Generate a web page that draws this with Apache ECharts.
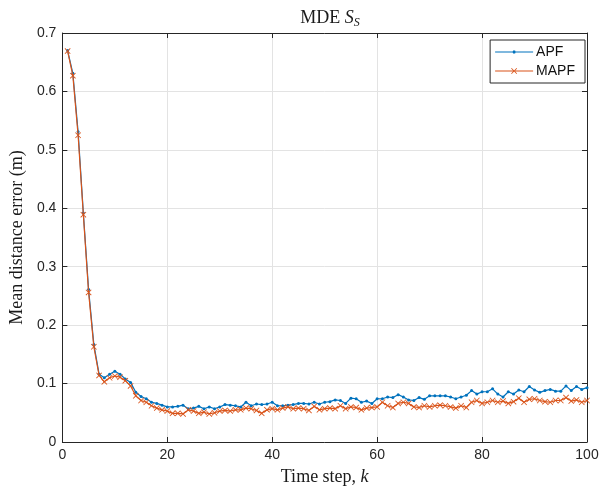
<!DOCTYPE html>
<html>
<head>
<meta charset="utf-8">
<script src="https://cdn.jsdelivr.net/npm/echarts@6/dist/echarts.min.js"></script>
<style>
  html, body { margin: 0; padding: 0; background: #fff; }
  #chart { width: 602px; height: 491px; }
</style>
</head>
<body>
<div id="chart"></div>
<script>
const xTicks = [0, 20, 40, 60, 80, 100]
const yTicks = [0, 0.1, 0.2, 0.3, 0.4, 0.5, 0.6, 0.7]

// mean distance error per time step k = 1..100
const apf = [
  0.670, 0.631, 0.531, 0.392, 0.261, 0.167, 0.116, 0.110, 0.116, 0.121,
  0.116, 0.108, 0.102, 0.085, 0.078, 0.074, 0.068, 0.066, 0.063, 0.060,
  0.060, 0.061, 0.063, 0.057, 0.058, 0.061, 0.057, 0.060, 0.057, 0.060,
  0.064, 0.063, 0.062, 0.060, 0.068, 0.062, 0.065, 0.064, 0.065, 0.068,
  0.062, 0.062, 0.063, 0.064, 0.066, 0.066, 0.065, 0.068, 0.065, 0.068,
  0.069, 0.072, 0.071, 0.066, 0.075, 0.074, 0.068, 0.070, 0.066, 0.074,
  0.074, 0.077, 0.076, 0.081, 0.077, 0.072, 0.071, 0.076, 0.073, 0.079,
  0.079, 0.079, 0.079, 0.077, 0.074, 0.077, 0.080, 0.088, 0.082, 0.086,
  0.086, 0.091, 0.082, 0.077, 0.086, 0.082, 0.089, 0.086, 0.095, 0.089,
  0.085, 0.088, 0.090, 0.087, 0.087, 0.096, 0.088, 0.095, 0.090, 0.093
]
const mapf = [
  0.669, 0.627, 0.525, 0.389, 0.256, 0.163, 0.114, 0.103, 0.110, 0.113,
  0.111, 0.105, 0.096, 0.079, 0.071, 0.068, 0.062, 0.058, 0.055, 0.053,
  0.049, 0.049, 0.048, 0.055, 0.053, 0.049, 0.051, 0.048, 0.050, 0.053,
  0.054, 0.053, 0.055, 0.055, 0.058, 0.057, 0.054, 0.049, 0.055, 0.057,
  0.055, 0.058, 0.060, 0.057, 0.058, 0.057, 0.054, 0.061, 0.055, 0.057,
  0.058, 0.057, 0.062, 0.057, 0.060, 0.059, 0.055, 0.058, 0.059, 0.060,
  0.068, 0.062, 0.059, 0.066, 0.068, 0.066, 0.060, 0.059, 0.062, 0.060,
  0.062, 0.063, 0.062, 0.060, 0.058, 0.062, 0.059, 0.068, 0.071, 0.066,
  0.068, 0.071, 0.068, 0.070, 0.066, 0.069, 0.075, 0.068, 0.073, 0.074,
  0.071, 0.069, 0.068, 0.071, 0.071, 0.076, 0.070, 0.072, 0.068, 0.071
]
const steps = apf.map((_, i) => i + 1)

const axisColor = '#262626'
const gridColor = '#e3e3e3'
const sans = 'Liberation Sans'
const serif = 'Liberation Serif'
const crossPath = 'path://M0,1L1,0L5,4L9,0L10,1L6,5L10,9L9,10L5,6L1,10L0,9L4,5Z'
// legend icons: short line with a small marker in the middle
const apfIcon = 'path://M0,-0.6L17.6,-0.6L18,-1.5L20,-1.5L20.4,-0.6L38,-0.6L38,0.6L20.4,0.6L20,1.5L18,1.5L17.6,0.6L0,0.6Z'
const mapfIcon = 'path://M0,-0.6L38,-0.6L38,0.6L0,0.6Z' +
  'M16,-2.4L16.6,-3L19,-0.6L21.4,-3L22,-2.4L19.6,0L22,2.4L21.4,3L19,0.6L16.6,3L16,2.4L18.4,0Z'

const chart = echarts.init(document.getElementById('chart'))

const boxAxis = (pos) => ({
  position: pos,
  axisLine: { show: true, onZero: false, lineStyle: { color: axisColor, width: 1 } },
  axisTick: { show: true, inside: true, length: 5, lineStyle: { color: axisColor } },
  axisLabel: { show: false },
  splitLine: { show: false }
})

chart.setOption({
  animation: false,
  backgroundColor: '#fff',
  title: {
    text: 'MDE {i|S}{sub|S}',
    left: 325,
    textAlign: 'center',
    top: 3,
    textStyle: {
      fontFamily: serif,
      fontSize: 18,
      fontWeight: 'normal',
      color: '#1a1a1a',
      rich: {
        i: { fontFamily: serif, fontSize: 18, fontStyle: 'italic', color: '#1a1a1a' },
        sub: { fontFamily: serif, fontSize: 12, fontStyle: 'italic', color: '#1a1a1a', padding: [9, 0, 0, 0] }
      }
    }
  },
  legend: {
    orient: 'vertical',
    right: 17,
    top: 40,
    padding: [5, 10, 5, 5],
    itemGap: 5,
    itemWidth: 38,
    itemHeight: 12,
    symbolKeepAspect: true,
    borderColor: axisColor,
    borderWidth: 1,
    borderRadius: 0,
    backgroundColor: '#fff',
    textStyle: { fontFamily: sans, fontSize: 14, color: '#111', padding: [0, 0, 0, -2] },
    data: [{ name: 'APF', icon: apfIcon }, { name: 'MAPF', icon: mapfIcon }]
  },
  grid: { left: 62, right: 15, top: 33, bottom: 46 },
  xAxis: [{
    type: 'value',
    min: xTicks[0],
    max: xTicks[xTicks.length - 1],
    interval: 20,
    name: 'Time step, {i|k}',
    nameLocation: 'middle',
    nameGap: 26,
    nameTextStyle: {
      fontFamily: serif, fontSize: 18, color: '#1a1a1a',
      rich: { i: { fontFamily: serif, fontSize: 18, fontStyle: 'italic', color: '#1a1a1a' } }
    },
    axisLine: { show: true, onZero: false, lineStyle: { color: axisColor, width: 1 } },
    axisTick: { show: true, inside: true, length: 5, lineStyle: { color: axisColor } },
    axisLabel: { fontFamily: sans, fontSize: 14, color: axisColor, margin: 6 },
    splitLine: { show: true, lineStyle: { color: gridColor, width: 1 } }
  }, Object.assign({ type: 'value', min: 0, max: 100, interval: 20 }, boxAxis('top'))],
  yAxis: [{
    type: 'value',
    min: yTicks[0],
    max: yTicks[yTicks.length - 1],
    interval: 0.1,
    name: 'Mean distance error (m)',
    nameLocation: 'middle',
    nameGap: 34,
    nameTextStyle: { fontFamily: serif, fontSize: 18, color: '#1a1a1a' },
    axisLine: { show: true, onZero: false, lineStyle: { color: axisColor, width: 1 } },
    axisTick: { show: true, inside: true, length: 5, lineStyle: { color: axisColor } },
    axisLabel: {
      fontFamily: sans, fontSize: 14, color: axisColor, margin: 6,
      formatter: (v) => (v === 0 ? '0' : v.toFixed(1))
    },
    splitLine: { show: true, lineStyle: { color: gridColor, width: 1 } }
  }, Object.assign({ type: 'value', min: 0, max: 0.7, interval: 0.1 }, boxAxis('right'))],
  series: [{
    name: 'APF',
    type: 'line',
    data: steps.map((k, i) => [k, apf[i]]),
    symbol: 'circle',
    symbolSize: 3,
    showAllSymbol: true,
    color: '#0072BD',
    lineStyle: { color: '#0072BD', width: 1.2 },
    itemStyle: { color: '#0072BD' },
    z: 2
  }, {
    name: 'MAPF',
    type: 'line',
    data: steps.map((k, i) => [k, mapf[i]]),
    symbol: crossPath,
    symbolSize: 6,
    showAllSymbol: true,
    color: '#D95319',
    lineStyle: { color: '#D95319', width: 1.2 },
    itemStyle: { color: '#D95319' },
    z: 3
  }]
})
</script>
</body>
</html>
